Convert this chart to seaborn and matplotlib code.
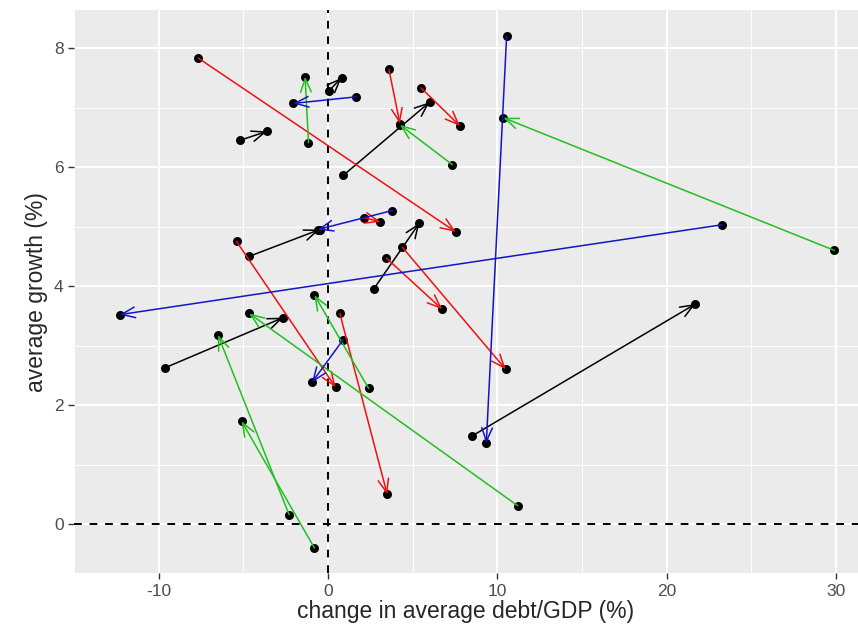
import numpy as np
import pandas as pd
import matplotlib
matplotlib.use("Agg")
import matplotlib.pyplot as plt
import seaborn as sns

# arrow start / end points, one list per coordinate, grouped by colour
x_start = [-5.2, 0.05, 0.9, -4.65, 2.7, -9.6, 8.5,
           -7.65, 3.6, 5.5, 2.15, -5.4, 4.4, 3.45, 0.7,
           -1.15, 7.35, 29.9, 2.4, 11.2, -2.3, -0.8,
           1.65, 10.55, 23.25, 3.8, 0.9]
y_start = [6.45, 7.28, 5.86, 4.5, 3.95, 2.63, 1.48,
           7.83, 7.64, 7.33, 5.15, 4.75, 4.65, 4.47, 3.54,
           6.41, 6.04, 4.6, 2.28, 0.31, 0.16, -0.4,
           7.18, 8.2, 5.03, 5.27, 3.1]
x_end = [-3.6, 0.8, 6.0, -0.5, 5.4, -2.65, 21.7,
         7.55, 4.25, 7.8, 3.1, 0.45, 10.5, 6.75, 3.5,
         -1.35, 4.25, 10.35, -0.8, -4.65, -6.5, -5.1,
         -2.05, 9.35, -12.3, -0.6, -0.95]
y_end = [6.6, 7.5, 7.09, 4.95, 5.06, 3.47, 3.7,
         4.91, 6.73, 6.69, 5.08, 2.3, 2.6, 3.61, 0.5,
         7.52, 6.71, 6.83, 3.85, 3.54, 3.18, 1.73,
         7.07, 1.36, 3.52, 4.95, 2.38]
group = (["black"] * 7 + ["red"] * 8 + ["green"] * 7 + ["blue"] * 5)

x_ticks = [-10, 0, 10, 20, 30]
y_ticks = [0, 2, 4, 6, 8]

palette = {"black": "#000000", "red": "#F01010", "green": "#20C020", "blue": "#1414C8"}

df = pd.DataFrame({"x0": x_start, "y0": y_start, "x1": x_end, "y1": y_end, "group": group})
pts = pd.concat([df[["x0", "y0"]].set_axis(["x", "y"], axis=1),
                 df[["x1", "y1"]].set_axis(["x", "y"], axis=1)], ignore_index=True)

sns.set_theme(style="darkgrid", rc={"axes.facecolor": "#EBEBEB",
                                    "grid.color": "white"})
plt.rcParams["font.family"] = ["Liberation Sans", "DejaVu Sans"]
plt.rcParams["axes.unicode_minus"] = False

fig = plt.figure(figsize=(8.58, 6.44), dpi=100)
ax = fig.add_axes([0.0862, 0.110, 0.9138, 0.8745])

ax.axvline(0, color="black", ls=(0, (4, 4)), lw=1.4, zorder=1)
ax.axhline(0, color="black", ls=(0, (4, 4)), lw=1.4, zorder=1)

sns.scatterplot(data=pts, x="x", y="y", color="black", s=42,
                edgecolor="black", linewidth=0, ax=ax, zorder=2)

# arrows drawn on top of the points, like geom_segment after geom_point
for _, r in df.iterrows():
    ax.annotate("", xy=(r.x1, r.y1), xytext=(r.x0, r.y0),
                arrowprops=dict(arrowstyle="->,head_length=0.8,head_width=0.32",
                                color=palette[r.group], lw=1.1,
                                shrinkA=0, shrinkB=0),
                zorder=3)

ax.set_xlim(-14.48, 31.3)
ax.set_ylim(-0.824, 8.64)
ax.set_xticks(x_ticks)
ax.set_yticks(y_ticks)
ax.set_xticks([-15, -5, 5, 15, 25], minor=True)
ax.set_yticks([1, 3, 5, 7], minor=True)
ax.grid(which="major", color="white", lw=1.4)
ax.grid(which="minor", color="white", lw=0.7)
ax.tick_params(which="major", length=4, width=1, color="#333333",
               labelsize=12.5, labelcolor="#4D4D4D", bottom=True, left=True)
ax.tick_params(which="minor", length=0)
for s in ax.spines.values():
    s.set_visible(False)

ax.set_xlabel("change in average debt/GDP (%)", fontsize=16.5, labelpad=1)
ax.set_ylabel("average growth (%)", fontsize=16.5, labelpad=4)

fig.savefig("out.png", dpi=100)
